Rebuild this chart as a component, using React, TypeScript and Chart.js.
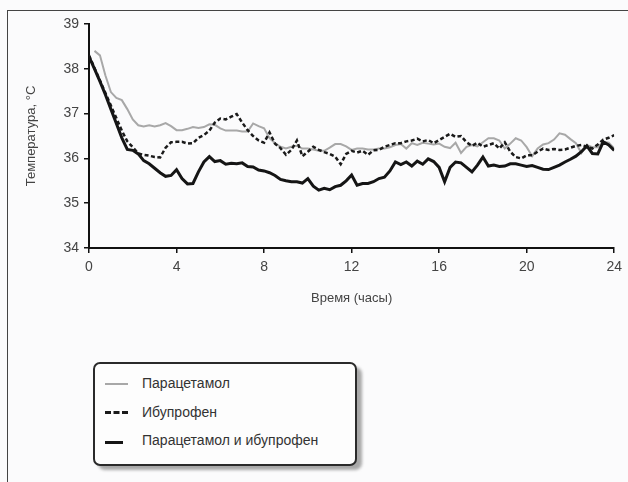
import React, { useEffect, useRef } from "react";
import { Chart, registerables } from "chart.js";

Chart.register(...registerables);

const hours: number[] = Array.from({ length: 97 }, (_, i) => i * 0.25);

const paracetamol: (number | null)[] = [
  null, 38.4, 38.3, 37.85, 37.48, 37.35, 37.3, 37.1, 36.87, 36.74, 36.71, 36.74,
  36.71, 36.74, 36.79, 36.72, 36.63, 36.63, 36.66, 36.7, 36.68, 36.7, 36.76, 36.75,
  36.67, 36.62, 36.62, 36.62, 36.6, 36.6, 36.78, 36.72, 36.67, 36.45, 36.34, 36.26,
  36.22, 36.26, 36.28, 36.22, 36.22, 36.2, 36.17, 36.17, 36.24, 36.32, 36.32, 36.27,
  36.19, 36.22, 36.22, 36.2, 36.2, 36.22, 36.22, 36.25, 36.3, 36.32, 36.22, 36.34,
  36.3, 36.35, 36.33, 36.31, 36.33, 36.26, 36.23, 36.35, 36.12, 36.26, 36.3, 36.27,
  36.36, 36.45, 36.45, 36.4, 36.22, 36.33, 36.45, 36.4, 36.25, 36.05, 36.22, 36.31,
  36.34, 36.42, 36.56, 36.53, 36.43, 36.34, 36.12, 36.3, 36.25, 36.25, 36.37, 36.35,
  36.22,
];

const ibuprofen: number[] = [
  38.3, 38.02, 37.74, 37.46, 37.18, 36.9, 36.62, 36.38, 36.25, 36.11, 36.08, 36.06,
  36.03, 36.02, 36.24, 36.36, 36.37, 36.37, 36.33, 36.34, 36.46, 36.52, 36.62, 36.8,
  36.89, 36.87, 36.93, 36.99, 36.8, 36.63, 36.5, 36.4, 36.35, 36.58, 36.33, 36.23,
  36.08, 36.19, 36.4, 36.05, 36.15, 36.26, 36.19, 36.14, 36.1, 36.04, 35.87, 36.1,
  36.17, 36.13, 36.17, 36.08, 36.18, 36.19, 36.26, 36.3, 36.34, 36.34, 36.38, 36.4,
  36.44, 36.38, 36.41, 36.34, 36.41, 36.48, 36.55, 36.48, 36.5, 36.36, 36.28, 36.35,
  36.26, 36.3, 36.34, 36.22, 36.36, 36.15, 36.03, 36.0, 36.07, 36.07, 36.15, 36.22,
  36.19, 36.21, 36.19, 36.2, 36.24, 36.28, 36.3, 36.26, 36.22, 36.31, 36.42, 36.46,
  36.52,
];

const combination: number[] = [
  38.27, 38.0, 37.72, 37.42, 37.1, 36.78, 36.46, 36.2, 36.18, 36.1, 35.95, 35.88,
  35.78, 35.68, 35.6, 35.62, 35.75, 35.55, 35.43, 35.44, 35.7, 35.92, 36.04, 35.93,
  35.95, 35.87, 35.89, 35.88, 35.9, 35.82, 35.81, 35.74, 35.72, 35.68, 35.62, 35.53,
  35.5, 35.48, 35.48, 35.45, 35.55, 35.38, 35.29, 35.33, 35.3, 35.37, 35.4, 35.5,
  35.63, 35.4, 35.44, 35.44, 35.48, 35.55, 35.58, 35.72, 35.92, 35.86, 35.92, 35.83,
  35.94, 35.87, 35.99, 35.93, 35.8, 35.48, 35.8, 35.92, 35.9, 35.8, 35.7, 35.85,
  36.03, 35.83, 35.85, 35.82, 35.83, 35.88, 35.88, 35.85, 35.82, 35.84, 35.8, 35.76,
  35.75, 35.8, 35.85, 35.92, 35.98, 36.05, 36.15, 36.28, 36.11, 36.1, 36.37, 36.3,
  36.18,
];

const seriesNames = ["Парацетамол", "Ибупрофен", "Парацетамол и ибупрофен"];
const xTitle = "Время (часы)";
const yTitle = "Температура, °C";

const FONT = "'Liberation Sans', Arial, sans-serif";

function toPoints(vals: (number | null)[]) {
  return vals.map((v, i) => ({ x: hours[i], y: v }));
}

export default function App() {
  const ref = useRef<HTMLCanvasElement | null>(null);

  useEffect(() => {
    if (!ref.current) return;
    const chart = new Chart(ref.current, {
      type: "line",
      data: {
        datasets: [
          {
            label: seriesNames[2],
            data: toPoints(combination) as any,
            borderColor: "#151515",
            borderWidth: 3,
            pointRadius: 0,
            tension: 0,
            order: 1,
          },
          {
            label: seriesNames[1],
            data: toPoints(ibuprofen) as any,
            borderColor: "#1a1a1a",
            borderWidth: 2.5,
            borderDash: [4, 2.5],
            pointRadius: 0,
            tension: 0,
            order: 2,
          },
          {
            label: seriesNames[0],
            data: toPoints(paracetamol) as any,
            borderColor: "#a8a8a8",
            borderWidth: 2,
            pointRadius: 0,
            tension: 0,
            spanGaps: false,
            order: 3,
          },
        ],
      },
      options: {
        animation: false,
        responsive: false,
        layout: { padding: { top: 24, right: 13, bottom: 0, left: 0 } },
        plugins: { legend: { display: false }, tooltip: { enabled: false } },
        scales: {
          x: {
            type: "linear",
            min: 0,
            max: 24,
            ticks: {
              stepSize: 4,
              color: "#444",
              font: { family: FONT, size: 14 },
              padding: 6,
              maxRotation: 0,
            },
            grid: {
              drawOnChartArea: false,
              drawTicks: true,
              tickLength: 5,
              color: "#111",
              lineWidth: 1.5,
            },
            border: { display: true, color: "#111", width: 2 },
            title: {
              display: true,
              text: xTitle,
              color: "#444",
              font: { family: FONT, size: 13 },
              padding: { top: 0, bottom: 4 },
            },
            afterFit: (scale: any) => {
              scale.height = 62;
            },
          },
          y: {
            min: 34,
            max: 39,
            ticks: {
              stepSize: 1,
              color: "#444",
              font: { family: FONT, size: 14 },
              padding: 5,
            },
            grid: {
              drawOnChartArea: false,
              drawTicks: true,
              tickLength: 5,
              color: "#111",
              lineWidth: 1.5,
            },
            border: { display: true, color: "#111", width: 2 },
            title: {
              display: true,
              text: yTitle,
              color: "#444",
              font: { family: FONT, size: 13 },
              padding: { top: 24, bottom: 0 },
            },
            afterFit: (scale: any) => {
              scale.width = 89;
            },
          },
        },
      },
    });
    return () => chart.destroy();
  }, []);

  const legendText: React.CSSProperties = {
    position: "absolute",
    left: 142,
    fontFamily: FONT,
    fontSize: 14,
    color: "#333",
    lineHeight: "16px",
    whiteSpace: "nowrap",
  };

  return (
    <div
      style={{
        position: "fixed",
        left: 0,
        top: 0,
        width: 628,
        height: 482,
        background: "#fbfbfc",
        overflow: "hidden",
      }}
    >
      <div
        style={{
          position: "absolute",
          left: 7,
          top: 10,
          width: 640,
          height: 490,
          borderLeft: "1px solid #444",
          borderTop: "1px solid #444",
        }}
      />
      <canvas
        ref={ref}
        width={628}
        height={310}
        style={{ position: "absolute", left: 0, top: 0, width: 628, height: 310 }}
      />
      <div
        style={{
          position: "absolute",
          left: 98,
          top: 367,
          width: 264,
          height: 103,
          borderRadius: 7,
          background: "#a8a8a8",
          filter: "blur(1.5px)",
        }}
      />
      <div
        style={{
          position: "absolute",
          left: 93,
          top: 362,
          width: 260,
          height: 100,
          borderRadius: 7,
          border: "2px solid #2a2a2a",
          background: "#fdfdfd",
        }}
      />
      <div
        style={{
          position: "absolute",
          left: 105,
          top: 383,
          width: 23,
          height: 0,
          borderTop: "2px solid #a8a8a8",
        }}
      />
      <div style={{ ...legendText, top: 375 }}>{seriesNames[0]}</div>
      <div
        style={{
          position: "absolute",
          left: 105,
          top: 411,
          width: 23,
          height: 0,
          borderTop: "3px dashed #1a1a1a",
        }}
      />
      <div style={{ ...legendText, top: 404 }}>{seriesNames[1]}</div>
      <div
        style={{
          position: "absolute",
          left: 105,
          top: 441,
          width: 18,
          height: 0,
          borderTop: "3px solid #151515",
        }}
      />
      <div style={{ ...legendText, top: 432 }}>{seriesNames[2]}</div>
    </div>
  );
}
